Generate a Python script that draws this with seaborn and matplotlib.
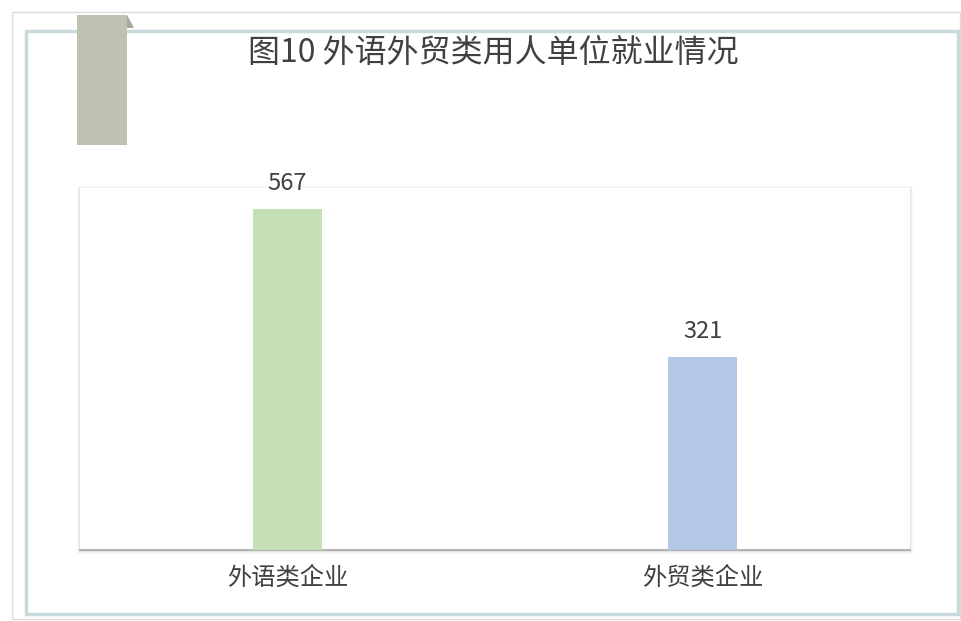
"""
Bar chart: employers of foreign-language / foreign-trade graduates.
"""

import pandas as pd
import matplotlib.pyplot as plt
import matplotlib.patches as mpatches
import seaborn as sns

categories = ['外语类企业', '外贸类企业']
counts = [567, 321]
bar_colors = ['#c5e0b4', '#b4c7e7']
title = '图10 外语外贸类用人单位就业情况'

FONT = ['Noto Sans CJK SC', 'DejaVu Sans']


def add_frame(fig):
    """Outer border, light-blue frame, grey tab and plot shadow."""
    W, H = 962, 621

    def rect(x, y, w, h, **kw):
        return mpatches.Rectangle((x / W, 1 - (y + h) / H), w / W, h / H,
                                  transform=fig.transFigure, **kw)

    fig.patches.append(rect(12, 12, 948, 607, fill=False, edgecolor='#dcdcdc', linewidth=1))
    fig.patches.append(rect(26, 31, 932, 583, fill=False, edgecolor='#c9dadd', linewidth=2.5))
    fig.patches.append(rect(77, 15, 50, 130, facecolor='#c1c1b1', edgecolor='none'))
    # folded corner of the tab
    fold = mpatches.Polygon([(127 / W, 1 - 15 / H), (134 / W, 1 - 28 / H), (127 / W, 1 - 28 / H)],
                            closed=True, transform=fig.transFigure,
                            facecolor='#a9a99b', edgecolor='none')
    fig.patches.append(fold)
    # soft shadow around plot area
    for i, a in enumerate([0.05, 0.035, 0.02]):
        d = i + 1
        fig.patches.append(rect(80 - d, 188 - d + 1, 830 + 2 * d, 362 + 2 * d,
                                facecolor='black', alpha=a, edgecolor='none'))


def main():
    df = pd.DataFrame({'category': categories, 'count': counts})

    fig = plt.figure(figsize=(9.62, 6.21), dpi=100)
    fig.patch.set_facecolor('white')
    add_frame(fig)

    ax = fig.add_axes([80 / 962, 71 / 621, 830 / 962, 362 / 621])
    ax.set_zorder(5)
    sns.barplot(data=df, x='category', y='count', hue='category',
                palette=bar_colors, width=0.166, saturation=1, legend=False, ax=ax, zorder=3)

    ax.set_facecolor('white')
    ax.set_ylim(0, 602)
    ax.set_xlim(-0.5, 1.5)
    ax.set_yticks([])
    ax.set_xlabel('')
    ax.set_ylabel('')
    for s in ['top', 'left', 'right']:
        ax.spines[s].set_visible(False)
    ax.spines['bottom'].set_color('#a6a6a6')
    ax.spines['bottom'].set_linewidth(1.2)
    ax.tick_params(axis='x', length=0, pad=11)
    ax.set_xticks(range(len(categories)))
    ax.set_xticklabels(categories, fontsize=17.5, color='#404040', family=FONT)

    for i, v in enumerate(counts):
        ax.text(i, v + 24, str(v), ha='center', va='bottom', fontsize=17,
                color='#404040', family=FONT)

    fig.text(493 / 962, 1 - 53 / 621, title, ha='center', va='center',
             fontsize=23, color='#404040', family=FONT)

    plt.savefig('out.png', dpi=100)


if __name__ == "__main__":
    main()
